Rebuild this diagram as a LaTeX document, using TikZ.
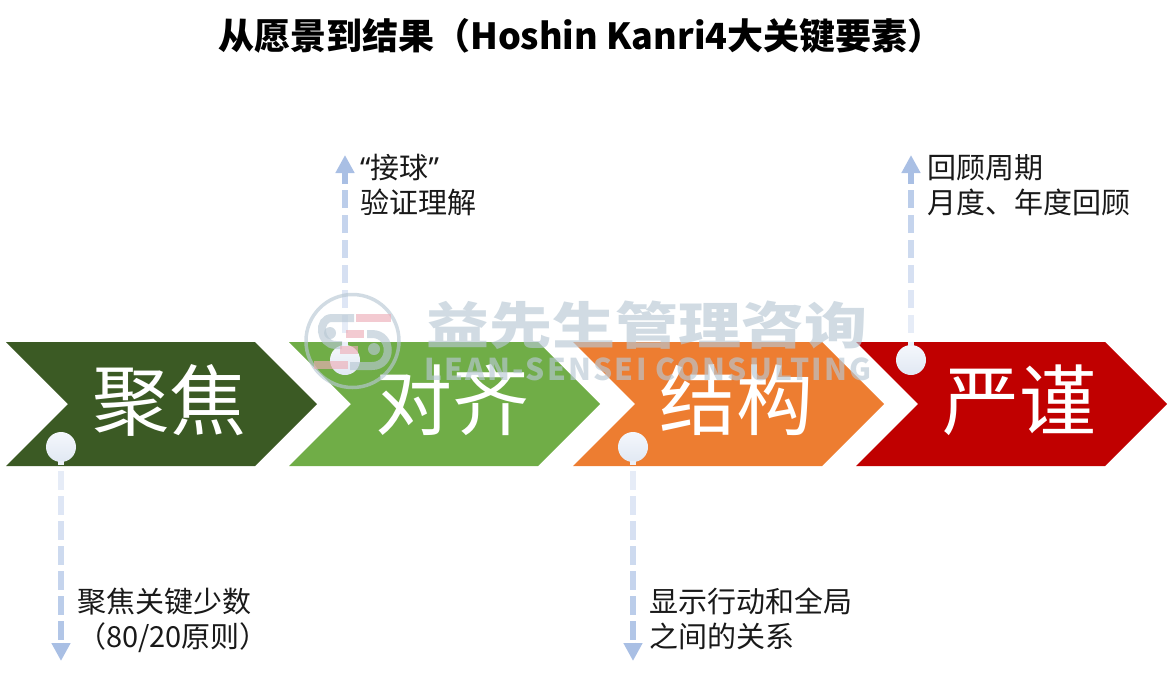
\documentclass[tikz,border=0pt]{standalone}
\usepackage{fontspec}
\setmainfont{Noto Sans CJK SC}
\newfontfamily\latinq{Noto Sans}
\usetikzlibrary{calc,arrows.meta}
\definecolor{cA}{HTML}{3B5A24}
\definecolor{cB}{HTML}{70AD47}
\definecolor{cC}{HTML}{ED7D31}
\definecolor{cD}{HTML}{C00000}
\definecolor{flowlo}{HTML}{EBF0F9}
\definecolor{flowhi}{HTML}{A9BFE4}
\definecolor{wm}{HTML}{B8C8D4}
\definecolor{wmred}{HTML}{EDAEB8}
\definecolor{dotlo}{HTML}{E1E8F3}
\definecolor{dothi}{HTML}{F4F7FC}
\tikzset{
  x=1pt,y=-1pt,
  chev/.style={inner sep=0,text=white,font=\fontsize{77}{77}\selectfont},
  dot/.style={circle,minimum size=30pt,inner sep=0,top color=dothi,bottom color=dotlo},
  note/.style={anchor=north west,align=left,inner sep=0,text=black!90,font=\fontsize{29}{35}\selectfont},
}
\newcommand{\chevron}[4]{% x, colour, name, text
  \fill[#2] (#1,342) -- ++(249,0) -- ++(62,62) -- ++(-62,62) -- ++(-249,0) -- ++(62,-62) -- cycle;
  \node[chev] (#3) at (#1+163,#4) {\csname lbl#3\endcsname};
}
\newcommand{\flowdown}[2]{% dot, tip
  \fill[flowlo] ($(#1)+(-3,14)$) rectangle ($(#1)+(3,18)$);
  \foreach \s/\p in {24/8,49/20,74/32,99/45,124/58,149/72,174/86}{
    \pgfmathsetmacro{\e}{\s+18.5}
    \colorlet{seg}{flowhi!\p!flowlo}
    \draw[line width=6pt,seg] ($(#1)+(0,\s)$) -- ($(#1)+(0,\e)$);
  }
  \draw[line width=6pt,flowhi,-{Triangle[length=18pt,width=18pt,inset=0pt,fill=flowhi]}] ($(#2)+(0,-18.5)$) -- (#2);
}
\newcommand{\flowup}[2]{% dot, tip
  \fill[flowlo] ($(#1)+(-3,-14)$) rectangle ($(#1)+(3,-18)$);
  \foreach \s/\p in {27/8,52/20,77/32,102/45,127/58,152/72}{
    \pgfmathsetmacro{\e}{\s+18.5}
    \colorlet{seg}{flowhi!\p!flowlo}
    \draw[line width=6pt,seg] ($(#1)+(0,-\s)$) -- ($(#1)+(0,-\e)$);
  }
  \draw[line width=6pt,flowhi,-{Triangle[length=18pt,width=18pt,inset=0pt,fill=flowhi]}] ($(#2)+(0,29)$) -- (#2);
}
\newcommand{\lblA}{聚焦}\newcommand{\lblB}{对齐}\newcommand{\lblC}{结构}\newcommand{\lblD}{严谨}
\begin{document}
\begin{tikzpicture}
\useasboundingbox (0,0) rectangle (1170,680);
\node[inner sep=0,font=\bfseries\fontsize{36}{36}\selectfont] (title) at (581,36) {从愿景到结果（Hoshin Kanri4大关键要素）};
\chevron{6}{cA}{A}{400}
\chevron{289}{cB}{B}{400}
\chevron{573}{cC}{C}{400}
\chevron{856}{cD}{D}{400}
\node[dot] (d1) at (61,447) {};
\node[dot] (d2) at (345,360) {};
\node[dot] (d3) at (633,447) {};
\node[dot] (d4) at (911,360) {};
\coordinate (e1) at (61,661);
\coordinate (e2) at (345,155);
\coordinate (e3) at (633,661);
\coordinate (e4) at (911,155);
\flowdown{d1}{e1}
\flowup{d2}{e2}
\flowdown{d3}{e3}
\flowup{d4}{e4}
\node[note] (n1) at (77,588) {聚焦关键少数\\（80/20原则）};
\node[note] (n2) at (360,154) {{\latinq “}接球{\latinq ”}\\验证理解};
\node[note] (n3) at (649,588) {显示行动和全局\\之间的关系};
\node[note] (n4) at (927,154) {回顾周期\\月度、年度回顾};
% watermark
\begin{scope}[opacity=.65]
\draw[wm,line width=3.5pt] (352.5,341) circle (46.5);
\draw[wm,line width=8pt] (354,318) -- (332,318) .. controls (317,318) and (319,345) .. (336,345) -- (342,345);
\draw[wm,line width=8pt] (367,334) -- (372,334) .. controls (393,334) and (393,366) .. (372,366) -- (350,366);
\fill[wm] (330,333) circle (6);
\fill[wm] (374,349) circle (6);
\fill[wmred] (356,314) rectangle (391,322);
\fill[wmred] (346,330) rectangle (364,338);
\fill[wmred] (340,346) rectangle (358,354);
\fill[wmred] (314,361) rectangle (348,369);
\node[inner sep=0,text=wm,yscale=.8,transform shape,font=\bfseries\fontsize{63}{63}\selectfont] (w1) at (647,325) {益先生管理咨询};
\node[inner sep=0,text=wm,font=\bfseries\fontsize{30}{30}\selectfont\addfontfeatures{LetterSpace=7.5}] (w2) at (648,369) {LEAN-SENSEI CONSULTING};
\end{scope}
\end{tikzpicture}
\end{document}
